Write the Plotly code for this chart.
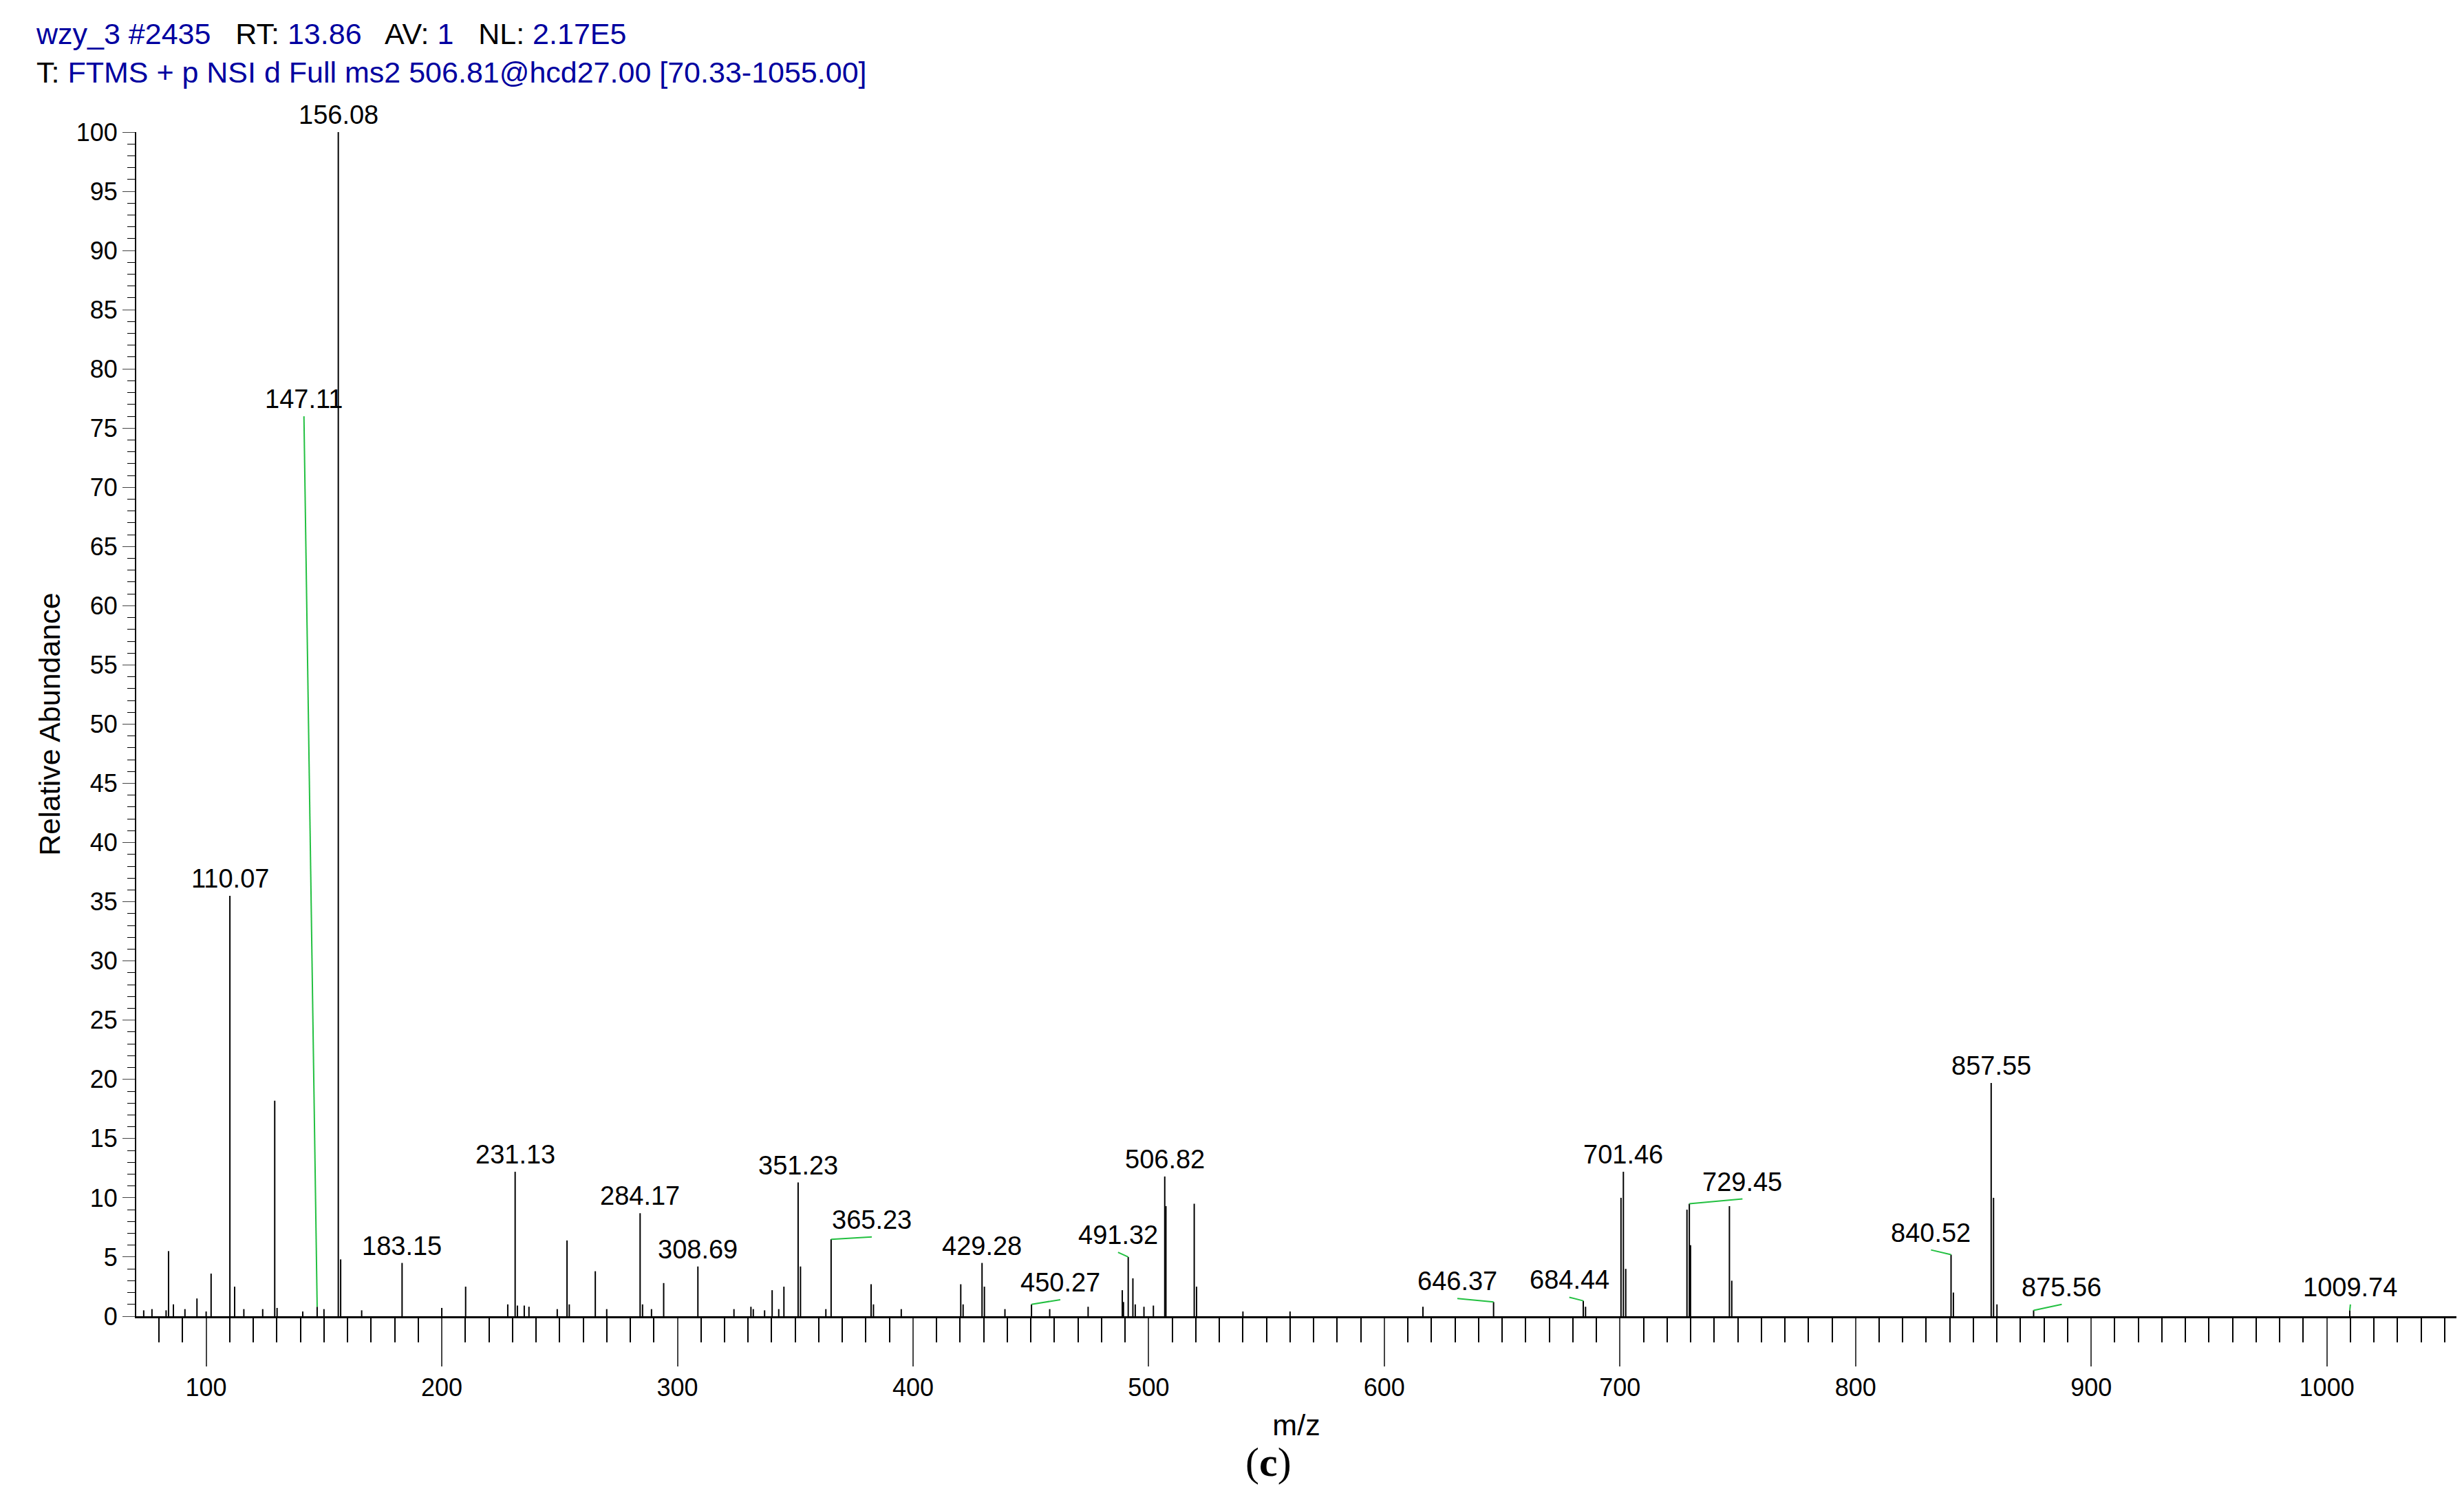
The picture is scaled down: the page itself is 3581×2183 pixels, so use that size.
import plotly.graph_objects as go

# peak list: m/z and relative abundance (%)
peak_mz = [73.5, 77.0, 83.0, 84.04, 86.1, 91.0, 96.1, 100.0, 102.1, 110.07, 112.09, 116.0, 124.0, 129.10,
           130.1, 141.0, 147.11, 150.0, 156.08, 157.08, 166.0, 183.15, 200.0, 210.12, 228.0, 231.13, 232.1,
           235.0, 237.0, 249.0, 253.15, 254.1, 265.15, 270.0, 284.17, 285.2, 289.0, 294.17, 308.69, 324.0,
           331.2, 332.2, 337.0, 340.2, 343.0, 345.2, 351.23, 352.23, 363.0, 365.23, 382.2, 383.2, 395.0,
           420.25, 421.25, 429.28, 430.28, 439.0, 450.27, 458.0, 474.3, 488.8, 489.3, 491.32, 493.3, 494.3,
           498.0, 502.0, 506.82, 507.32, 519.33, 520.33, 540.0, 560.0, 616.4, 646.37, 684.44, 685.4, 700.45,
           701.46, 702.46, 728.45, 729.45, 729.95, 746.46, 747.46, 840.52, 841.52, 857.55, 858.55, 860.0,
           875.56, 1009.74]
peak_int = [0.5, 0.6, 0.5, 5.5, 1.0, 0.6, 1.5, 0.4, 3.6, 35.5, 2.5, 0.6, 0.6, 18.2,
            0.7, 0.4, 0.8, 0.6, 100.0, 4.8, 0.5, 4.5, 0.7, 2.5, 1.0, 12.2, 0.9,
            0.9, 0.8, 0.6, 6.4, 1.0, 3.8, 0.6, 8.7, 1.0, 0.6, 2.8, 4.2, 0.6,
            0.8, 0.6, 0.5, 2.2, 0.6, 2.5, 11.3, 4.2, 0.6, 6.5, 2.7, 1.0, 0.6,
            2.7, 1.0, 4.5, 2.5, 0.6, 1.0, 0.6, 0.8, 2.2, 1.2, 5.0, 3.2, 1.0,
            0.8, 0.9, 11.8, 9.3, 9.5, 2.5, 0.4, 0.4, 0.8, 1.2, 1.3, 0.8, 10.0,
            12.2, 4.0, 9.0, 9.5, 6.0, 9.3, 3.0, 5.2, 2.0, 19.7, 10.0, 1.0,
            0.5, 0.5]

# annotated peaks, with where their text sits (m/z, abundance)
label_mz = [156.08, 147.11, 110.07, 183.15, 231.13, 284.17, 308.69, 351.23, 365.23, 429.28, 450.27,
            491.32, 506.82, 646.37, 684.44, 701.46, 729.45, 840.52, 857.55, 875.56, 1009.74]
label_int = [100.0, 0.8, 35.5, 4.5, 12.2, 8.7, 4.2, 11.3, 6.5, 4.5, 1.0,
             5.0, 11.8, 1.2, 1.3, 12.2, 9.5, 5.2, 19.7, 0.5, 0.5]
text_mz = [156.08, 141.5, 110.07, 183.15, 231.13, 284.17, 308.69, 351.23, 382.5, 429.28, 462.5,
           487.0, 506.82, 631.0, 678.5, 701.46, 752.0, 832.0, 857.55, 887.5, 1010.0]
text_int = [100.0, 76.0, 35.5, 4.5, 12.2, 8.7, 4.2, 11.3, 6.7, 4.5, 1.4,
            5.4, 11.8, 1.5, 1.6, 12.2, 9.9, 5.6, 19.7, 1.0, 1.0]

xs, ys = [], []
for m, a in zip(peak_mz, peak_int):
    xs += [m, m, None]
    ys += [0, a, None]

fig = go.Figure()
fig.add_trace(go.Scatter(x=xs, y=ys, mode="lines", line=dict(color="black", width=2),
                         hoverinfo="skip", showlegend=False))

# green leader lines for labels shifted away from their peak
for m, a, tm, ti in zip(label_mz, label_int, text_mz, text_int):
    if abs(tm - m) > 1 or abs(ti - a) > 0.1:
        fig.add_trace(go.Scatter(x=[tm, m], y=[ti, a], mode="lines",
                                 line=dict(color="#22c040", width=2), hoverinfo="skip", showlegend=False))
    fig.add_annotation(x=tm, y=ti, text=f"{m:.2f}", showarrow=False, yanchor="bottom",
                       yshift=2, font=dict(size=38, color="black"))

fig.add_annotation(xref="paper", yref="paper", x=-0.044, y=1.098, xanchor="left", yanchor="top",
                   showarrow=False, align="left",
                   text="<span style='color:#0000a0'>wzy_3 #2435</span>   <span style='color:black'>RT:</span> "
                        "<span style='color:#0000a0'>13.86</span>   AV: <span style='color:#0000a0'>1</span>   "
                        "NL: <span style='color:#0000a0'>2.17E5</span><br>"
                        "T: <span style='color:#0000a0'>FTMS + p NSI d Full ms2 506.81@hcd27.00 [70.33-1055.00]</span>",
                   font=dict(size=43, color="black"))
fig.add_annotation(xref="paper", yref="paper", x=0.488, y=-0.123, showarrow=False, yanchor="middle",
                   text="(<b>c</b>)", font=dict(size=60, color="black", family="Liberation Serif"))

fig.update_layout(
    width=3581, height=2183, paper_bgcolor="white", plot_bgcolor="white",
    margin=dict(l=190, r=19, t=184, b=278),
    font=dict(family="Liberation Sans, Arial", size=36, color="black"),
    xaxis=dict(range=[70.33, 1055], showgrid=False, zeroline=False, showline=True, linecolor="black",
               linewidth=3, ticks="outside", ticklen=70, tickwidth=1.5, dtick=100, tick0=0,
               minor=dict(dtick=10, ticks="outside", ticklen=35, tickcolor="black", showgrid=False),
               title=dict(text="m/z", standoff=20)),
    yaxis=dict(range=[0, 100], showgrid=False, zeroline=False, showline=True, linecolor="black",
               linewidth=2, ticks="outside", ticklen=18, dtick=5, tick0=0,
               minor=dict(dtick=1, ticks="outside", ticklen=11, tickcolor="black", showgrid=False),
               title=dict(text="Relative Abundance", standoff=10)),
)

fig.write_html("out.html")
